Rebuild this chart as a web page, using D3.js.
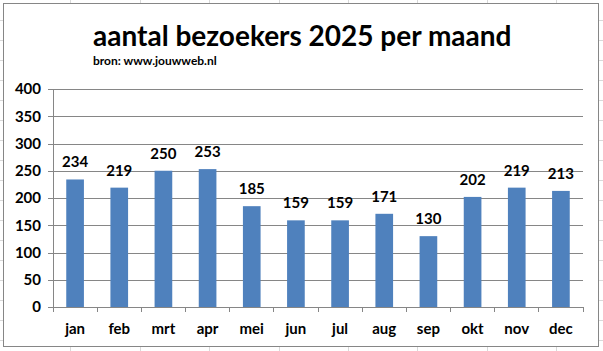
<!DOCTYPE html>
<html>
<head>
<meta charset="utf-8">
<script src="https://cdnjs.cloudflare.com/ajax/libs/d3/7.8.5/d3.min.js"></script>
<style>
    body { margin: 0; background: #fff; }
    svg { display: block; font-family: Lato, "Open Sans", sans-serif; }
</style>
</head>
<body>
<svg id="chart" width="603" height="351"></svg>
<script>
const months = ["jan", "feb", "mrt", "apr", "mei", "jun", "jul", "aug", "sep", "okt", "nov", "dec"];
const visitors = [234, 219, 250, 253, 185, 159, 159, 171, 130, 202, 219, 213];
const yTicks = [0, 50, 100, 150, 200, 250, 300, 350, 400];
const title = "aantal bezoekers 2025 per maand";
const subtitle = "bron: www.jouwweb.nl";

const svg = d3.select("#chart");
const W = 603, H = 351;

// spreadsheet cells behind the chart object
const cellW = 69.4, cellH = 20;
const sheet = svg.append("g").attr("stroke", "#d9d9d9").attr("stroke-width", 1);
d3.range(1, 9).forEach(i => {
    sheet.append("line").attr("x1", Math.round(i * cellW) + 1.5).attr("x2", Math.round(i * cellW) + 1.5)
        .attr("y1", 0).attr("y2", H);
});
d3.range(1, 18).forEach(i => {
    sheet.append("line").attr("x1", 0).attr("x2", W)
        .attr("y1", i * cellH + 0.5).attr("y2", i * cellH + 0.5);
});

// chart object
svg.append("rect")
    .attr("x", 3.5).attr("y", 3.5)
    .attr("width", 595).attr("height", 343)
    .attr("fill", "#fff")
    .attr("stroke", "#868686");

svg.append("text")
    .attr("x", 93).attr("y", 46)
    .attr("font-size", 28).attr("font-weight", "bold")
    .attr("fill", "#000")
    .text(title);

svg.append("text")
    .attr("x", 93).attr("y", 65)
    .attr("font-size", 12).attr("font-weight", "bold")
    .attr("fill", "#000")
    .text(subtitle);

const margin = { top: 89, right: 20, bottom: 44, left: 53 };
const width = 583 - margin.left;
const height = 307 - margin.top;

const x = d3.scaleBand().domain(months).range([0, width]).paddingInner(0.6).paddingOuter(0.3);
const xb = d3.scaleBand().domain(months).range([0, width]);
const y = d3.scaleLinear().domain([0, 400]).range([height, 0]);

const g = svg.append("g").attr("transform", `translate(${margin.left},${margin.top})`);

// gridlines + y ticks
const yAxis = g.append("g")
    .call(d3.axisLeft(y).tickValues(yTicks).tickSize(-width).tickPadding(12).tickSizeOuter(0));
yAxis.select(".domain").remove();
yAxis.selectAll(".tick line").attr("stroke", "#868686").attr("x1", -5).attr("shape-rendering", "crispEdges");
yAxis.selectAll(".tick text")
    .attr("font-size", 15).attr("font-weight", "bold").attr("fill", "#000")
    .attr("font-family", "Lato, sans-serif");

// y axis line
g.append("line")
    .attr("x1", 0).attr("x2", 0).attr("y1", 0).attr("y2", height + 5)
    .attr("stroke", "#868686").attr("shape-rendering", "crispEdges");

// bars
g.selectAll(".bar")
    .data(visitors)
    .join("rect")
    .attr("class", "bar")
    .attr("x", (d, i) => x(months[i]))
    .attr("y", d => y(d))
    .attr("width", x.bandwidth())
    .attr("height", d => height - y(d))
    .attr("fill", "#4f81bd");

// x axis with ticks between categories
const xAxis = g.append("g").attr("transform", `translate(0,${height})`);
xAxis.append("line")
    .attr("x1", 0).attr("x2", width)
    .attr("stroke", "#868686").attr("shape-rendering", "crispEdges");
xAxis.selectAll(".sep")
    .data(d3.range(0, 13))
    .join("line")
    .attr("class", "sep")
    .attr("x1", i => i * xb.step()).attr("x2", i => i * xb.step())
    .attr("y1", 0).attr("y2", 5)
    .attr("stroke", "#868686").attr("shape-rendering", "crispEdges");
xAxis.selectAll(".lab")
    .data(months)
    .join("text")
    .attr("class", "lab")
    .attr("x", d => xb(d) + xb.bandwidth() / 2)
    .attr("y", 27)
    .attr("text-anchor", "middle")
    .attr("font-size", 15).attr("font-weight", "bold")
    .text(d => d);

// data labels
g.selectAll(".val")
    .data(visitors)
    .join("text")
    .attr("class", "val")
    .attr("x", (d, i) => x(months[i]) + x.bandwidth() / 2)
    .attr("y", d => y(d) - 12)
    .attr("text-anchor", "middle")
    .attr("font-size", 15).attr("font-weight", "bold")
    .text(d => d);
</script>
</body>
</html>
